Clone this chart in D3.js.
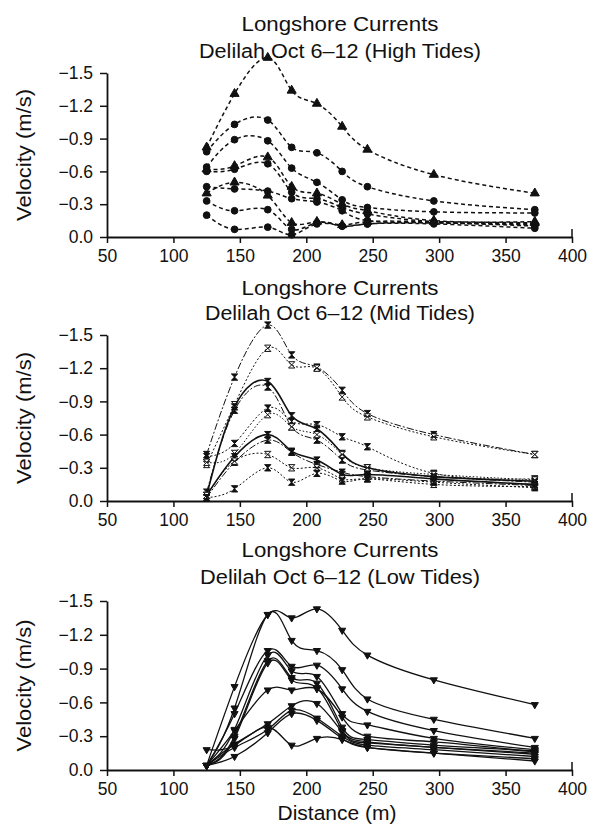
<!DOCTYPE html>
<html>
<head>
<meta charset="utf-8">
<script src="https://cdn.jsdelivr.net/npm/d3@7"></script>
<style>
  body { margin: 0; background: #fff; }
  svg text { font-family: "Liberation Sans", Arial, sans-serif; fill: #111; }
</style>
</head>
<body>
<svg id="drawing" width="591" height="827"></svg>
<script>
// cross-shore positions of the current meters (m)
const distances = [125, 146, 171, 189, 208, 227, 246, 296, 372];
const xTicks = [50, 100, 150, 200, 250, 300, 350, 400];
const yTicks = [0, -0.3, -0.6, -0.9, -1.2, -1.5];
const yTickLabels = ["0.0", "\u22120.3", "\u22120.6", "\u22120.9", "\u22121.2", "\u22121.5"];

const highTides = [
  [-0.82, -1.31, -1.64, -1.34, -1.22, -1.01, -0.80, -0.57, -0.40],
  [-0.78, -1.03, -1.07, -0.82, -0.77, -0.60, -0.46, -0.33, -0.25],
  [-0.64, -0.89, -0.88, -0.63, -0.50, -0.34, -0.27, -0.23, -0.22],
  [-0.62, -0.65, -0.73, -0.46, -0.40, -0.30, -0.24, -0.15, -0.14],
  [-0.60, -0.62, -0.67, -0.41, -0.35, -0.27, -0.21, -0.14, -0.12],
  [-0.46, -0.44, -0.42, -0.35, -0.32, -0.24, -0.15, -0.13, -0.11],
  [-0.40, -0.50, -0.38, -0.13, -0.14, -0.11, -0.14, -0.14, -0.13],
  [-0.33, -0.24, -0.25, -0.07, -0.13, -0.10, -0.12, -0.13, -0.10],
  [-0.20, -0.07, -0.09, -0.02, -0.12, -0.10, -0.12, -0.12, -0.08]
];

const midTides = [
  [-0.42, -1.12, -1.59, -1.32, -1.21, -1.00, -0.79, -0.60, -0.42],
  [-0.33, -0.87, -1.38, -1.23, -1.20, -0.94, -0.76, -0.58, -0.42],
  [-0.05, -0.85, -1.08, -0.77, -0.65, -0.43, -0.30, -0.22, -0.18],
  [-0.08, -0.82, -1.03, -0.67, -0.55, -0.37, -0.28, -0.22, -0.17],
  [-0.40, -0.52, -0.84, -0.72, -0.69, -0.58, -0.49, -0.25, -0.20],
  [-0.35, -0.43, -0.78, -0.67, -0.60, -0.42, -0.30, -0.24, -0.19],
  [-0.05, -0.40, -0.60, -0.45, -0.37, -0.24, -0.24, -0.20, -0.15],
  [-0.03, -0.35, -0.55, -0.44, -0.33, -0.26, -0.22, -0.18, -0.14],
  [-0.05, -0.36, -0.42, -0.30, -0.30, -0.20, -0.20, -0.15, -0.13],
  [-0.03, -0.11, -0.30, -0.17, -0.25, -0.18, -0.20, -0.17, -0.12]
];

const lowTides = [
  [-0.04, -0.74, -1.38, -1.35, -1.43, -1.24, -1.02, -0.80, -0.58],
  [-0.04, -0.55, -1.38, -1.15, -1.06, -0.89, -0.63, -0.45, -0.28],
  [-0.04, -0.50, -1.06, -0.92, -0.93, -0.72, -0.52, -0.35, -0.20],
  [-0.04, -0.36, -1.02, -0.88, -0.83, -0.50, -0.40, -0.28, -0.18],
  [-0.04, -0.30, -0.97, -0.82, -0.77, -0.38, -0.27, -0.22, -0.17],
  [-0.04, -0.28, -0.95, -0.80, -0.73, -0.35, -0.24, -0.20, -0.15],
  [-0.04, -0.35, -0.71, -0.71, -0.72, -0.47, -0.30, -0.25, -0.16],
  [-0.04, -0.23, -0.41, -0.57, -0.59, -0.34, -0.25, -0.20, -0.14],
  [-0.04, -0.20, -0.36, -0.53, -0.46, -0.30, -0.22, -0.18, -0.12],
  [-0.04, -0.12, -0.33, -0.50, -0.44, -0.28, -0.20, -0.15, -0.08],
  [-0.18, -0.22, -0.38, -0.22, -0.28, -0.27, -0.20, -0.15, -0.10]
];

const svg = d3.select("svg#drawing");

// hourglass marker used on the mid tide plot
const hourglass = {
  draw(ctx, size) {
    const s = Math.sqrt(size) / 2;
    ctx.moveTo(-s, -s); ctx.lineTo(s, -s); ctx.lineTo(-s, s); ctx.lineTo(s, s); ctx.closePath();
  }
};

const panels = [
  {
    series: highTides, subtitle: "Delilah Oct 6\u201312 (High Tides)",
    top: 73, bottom: 237, t1: 31, t2: 58, w2: 282,
    dash: () => "4,3", width: () => 1.5,
    symbol: i => [0, 3, 6].includes(i) ? d3.symbolTriangle : d3.symbolCircle,
    size: () => 36, open: () => false
  },
  {
    series: midTides, subtitle: "Delilah Oct 6\u201312 (Mid Tides)",
    top: 335, bottom: 501, t1: 295, t2: 320, w2: 270,
    dash: i => ["7,2,2,2", "2,2", null, "7,2,2,2", "2,2", "1.5,2", null, "7,2,2,2", "2,2", "2,2"][i],
    width: i => (i === 2 || i === 6) ? 1.6 : 1,
    symbol: () => hourglass, size: () => 40,
    open: i => [1, 5, 8].includes(i)
  },
  {
    series: lowTides, subtitle: "Delilah Oct 6\u201312 (Low Tides)",
    top: 601, bottom: 770, t1: 557, t2: 584, w2: 280,
    dash: () => null, width: () => 1.3,
    symbol: () => d3.symbolTriangle, size: () => 22, open: () => false, flip: true
  }
];

const x = d3.scaleLinear().domain([50, 400]).range([107, 572]);

panels.forEach(p => {
  const y = d3.scaleLinear().domain([0, -1.5]).range([p.bottom, p.top]);
  const g = svg.append("g");

  // titles
  g.append("text").attr("x", 340).attr("y", p.t1).attr("text-anchor", "middle")
    .attr("font-size", 20).attr("textLength", 197).attr("lengthAdjust", "spacingAndGlyphs")
    .text("Longshore Currents");
  g.append("text").attr("x", 340).attr("y", p.t2).attr("text-anchor", "middle")
    .attr("font-size", 20).attr("textLength", p.w2).attr("lengthAdjust", "spacingAndGlyphs")
    .text(p.subtitle);

  // axes
  const yAxis = g.append("g").attr("transform", `translate(${x(50)},0)`)
    .call(d3.axisLeft(y).tickValues(yTicks).tickSize(7).tickSizeOuter(0)
      .tickFormat((d, i) => yTickLabels[i]));
  const xAxis = g.append("g").attr("transform", `translate(0,${p.bottom})`)
    .call(d3.axisBottom(x).tickValues(xTicks).tickSize(6).tickSizeOuter(0));
  [yAxis, xAxis].forEach(a => {
    a.select(".domain").attr("stroke", "#111").attr("stroke-width", 1.8);
    a.selectAll(".tick line").attr("stroke", "#111").attr("stroke-width", 1.5);
    a.selectAll(".tick text").attr("font-size", 17.5).attr("font-family", "Liberation Sans, Arial, sans-serif").attr("fill", "#111");
  });
  yAxis.selectAll(".tick text").attr("x", -14);
  xAxis.selectAll(".tick text").attr("y", 13);
  // end bracket at 400
  xAxis.append("line").attr("x1", x(400)).attr("x2", x(400)).attr("y1", 0).attr("y2", -8)
    .attr("stroke", "#111").attr("stroke-width", 1.5);

  g.append("text")
    .attr("transform", `translate(31,${(p.top + p.bottom) / 2}) rotate(-90)`)
    .attr("text-anchor", "middle").attr("font-size", 20)
    .attr("textLength", 132).attr("lengthAdjust", "spacingAndGlyphs")
    .text("Velocity (m/s)");

  const line = d3.line().x((d, i) => x(distances[i])).y(d => y(d)).curve(d3.curveNatural);

  p.series.forEach((s, i) => {
    g.append("path").datum(s)
      .attr("d", line)
      .attr("fill", "none")
      .attr("stroke", "#111")
      .attr("stroke-width", p.width(i))
      .attr("stroke-dasharray", p.dash(i));
    const sym = d3.symbol().type(p.symbol(i)).size(p.size(i));
    g.selectAll(null).data(s).enter().append("path")
      .attr("d", sym)
      .attr("transform", (d, j) => `translate(${x(distances[j])},${y(d)})${p.flip ? " rotate(180)" : ""}`)
      .attr("fill", p.open(i) ? "#fff" : "#111")
      .attr("stroke", "#111")
      .attr("stroke-width", 1);
  });
});

svg.append("text").attr("x", 337).attr("y", 820).attr("text-anchor", "middle")
  .attr("font-size", 20).attr("textLength", 119).attr("lengthAdjust", "spacingAndGlyphs")
  .text("Distance (m)");
</script>
</body>
</html>
